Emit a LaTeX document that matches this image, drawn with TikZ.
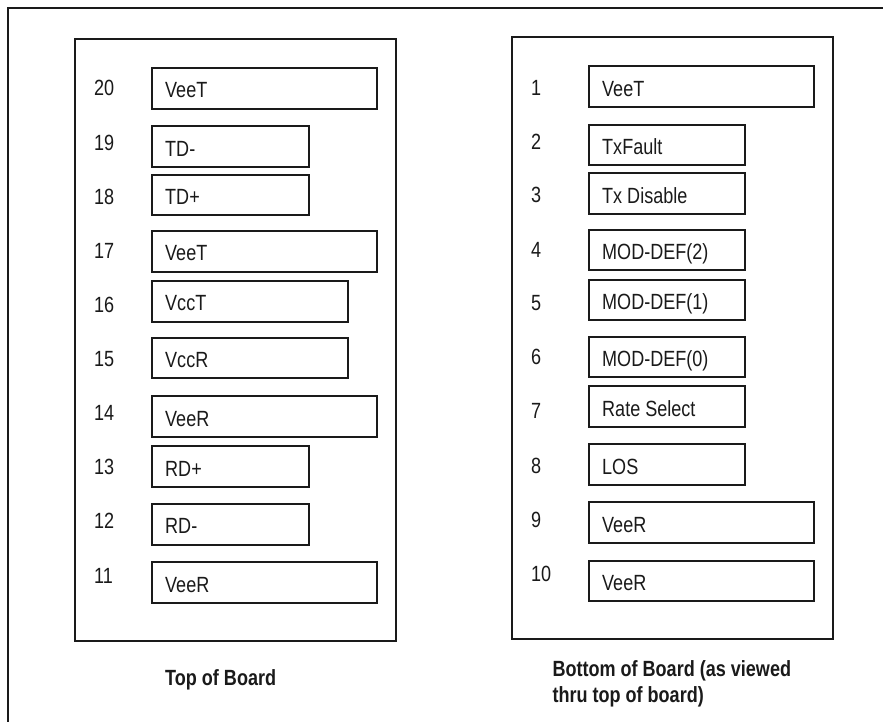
\documentclass[tikz,border=0pt]{standalone}
\usepackage{fontspec}
\setmainfont{Liberation Sans}[FakeStretch=0.82]
\definecolor{ink}{HTML}{1A1A1A}
\newcommand\pbox[6]{%
  \node[pinbox, minimum width={#4pt-#2pt}, minimum height={#5pt-#3pt}] (#1) at (#2,#3) {};
  \node[anchor=base west] (#1t) at ([xshift=13.7pt, yshift=-9.5pt]#1.west) {#6};}
\begin{document}
\begin{tikzpicture}[x=1pt,y=-1pt,
  every node/.style={font=\fontsize{22pt}{26pt}\selectfont, inner sep=0pt, text=ink},
  pinbox/.style={draw=ink, line width=2.1pt, rectangle, anchor=north west, inner sep=0pt},
  board/.style={draw=ink, line width=2.1pt, rectangle, anchor=north west, inner sep=0pt},
  num/.style={anchor=base west},
  caption/.style={anchor=base west, font=\fontsize{22pt}{26pt}\selectfont\bfseries}]
\useasboundingbox (0,0) rectangle (883,722);
\fill[white] (0,0) rectangle (883,722);
\begin{scope}
  \clip (0,0) rectangle (883,722);
  \draw[ink, line width=2.1pt] (8,8) rectangle (900,740);
\end{scope}
% boards
\node[board, minimum width=321pt, minimum height=602.3pt] (topboard) at (74,37.7) {};
\node[board, minimum width=321pt, minimum height=602pt] (botboard) at (510.7,35.7) {};
% left column
\pbox{b20}{151.3}{66.7}{375.7}{107.7}{VeeT}
\pbox{b19}{151.3}{125.3}{307.7}{165.7}{TD-}
\pbox{b18}{151.3}{174}{307.7}{214.3}{TD+}
\pbox{b17}{151.3}{230}{375.7}{270.7}{VeeT}
\pbox{b16}{151.3}{280}{346.7}{320.7}{VccT}
\pbox{b15}{151.3}{336.7}{346.7}{377.3}{VccR}
\pbox{b14}{151.3}{395}{375.7}{436}{VeeR}
\pbox{b13}{151.3}{445}{307.7}{486}{RD+}
\pbox{b12}{151.3}{502.7}{307.7}{543.7}{RD-}
\pbox{b11}{151.3}{561}{375.7}{602.3}{VeeR}
\node[num] (n20) at (94,96) {20};
\node[num] (n19) at (94,150.7) {19};
\node[num] (n18) at (94,204.7) {18};
\node[num] (n17) at (94,258) {17};
\node[num] (n16) at (94,312) {16};
\node[num] (n15) at (94,366) {15};
\node[num] (n14) at (94,420.7) {14};
\node[num] (n13) at (94,474) {13};
\node[num] (n12) at (94,528) {12};
\node[num] (n11) at (94,583) {11};
% right column
\pbox{b1}{588.3}{65.3}{812.7}{106}{VeeT}
\pbox{b2}{588.3}{124}{744.3}{164.3}{TxFault}
\pbox{b3}{588.3}{172.3}{744.3}{212.7}{Tx Disable}
\pbox{b4}{588.3}{229.3}{744.3}{269.3}{MOD-DEF(2)}
\pbox{b5}{588.3}{279}{744.3}{319.3}{MOD-DEF(1)}
\pbox{b6}{588.3}{335.7}{744.3}{375.7}{MOD-DEF(0)}
\pbox{b7}{588.3}{385.3}{744.3}{425.7}{Rate Select}
\pbox{b8}{588.3}{443.3}{744.3}{484}{LOS}
\pbox{b9}{588.3}{500.7}{812.7}{542.3}{VeeR}
\pbox{b10}{588.3}{560}{812.7}{600}{VeeR}
\node[num] (n1) at (531,95.3) {1};
\node[num] (n2) at (531,149.7) {2};
\node[num] (n3) at (531,203) {3};
\node[num] (n4) at (531,257.3) {4};
\node[num] (n5) at (531,310.7) {5};
\node[num] (n6) at (531,364.7) {6};
\node[num] (n7) at (531,418) {7};
\node[num] (n8) at (531,473) {8};
\node[num] (n9) at (531,527) {9};
\node[num] (n10) at (531,581.3) {10};
% captions
\node[caption] (captop) at (165,685.7) {Top of Board};
\node[caption] (capbot1) at (552.3,676.7) {Bottom of Board (as viewed};
\node[caption] (capbot2) at (552.3,702.3) {thru top of board)};
\end{tikzpicture}
\end{document}
